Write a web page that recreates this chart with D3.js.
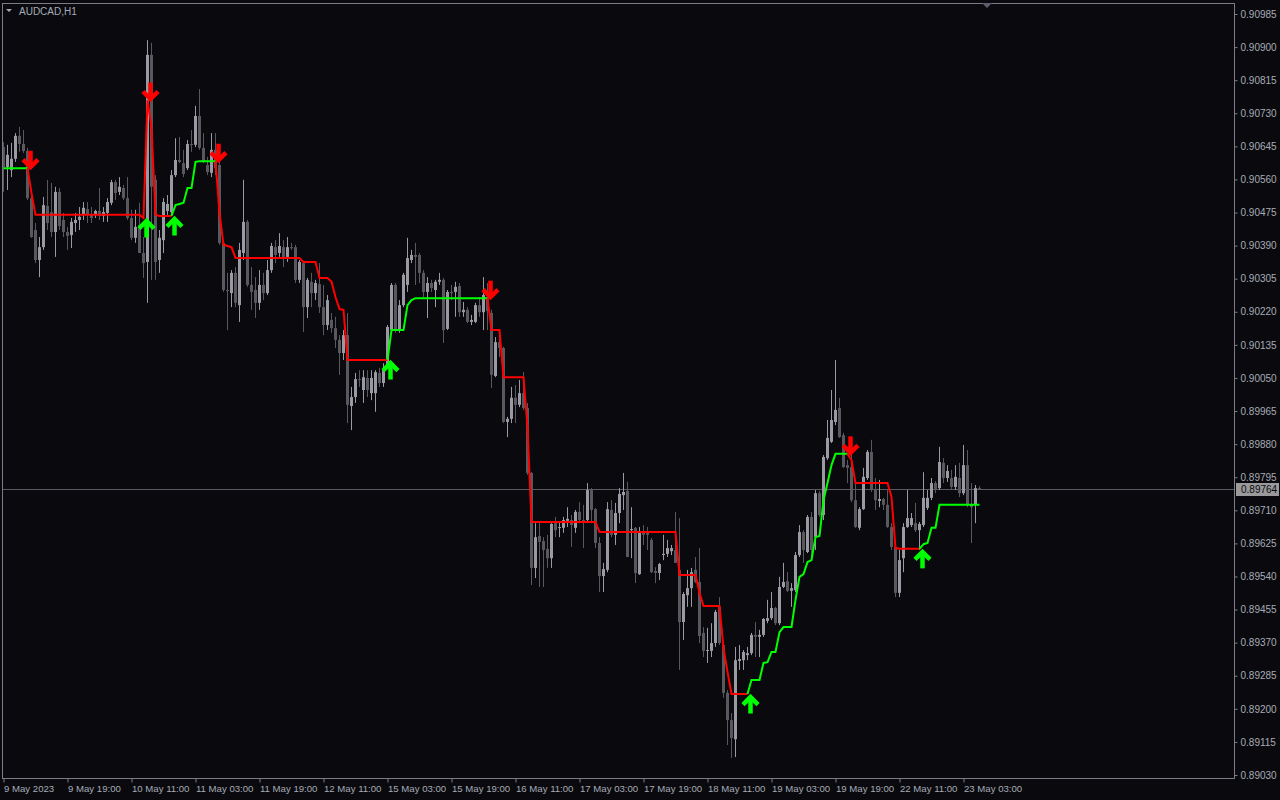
<!DOCTYPE html>
<html><head><meta charset="utf-8">
<script src="https://cdn.jsdelivr.net/npm/d3@7"></script>
<style>html,body{margin:0;padding:0;background:#0a0a0e;overflow:hidden}</style>
</head><body><svg id="c" width="1280" height="800"></svg>
<script>
// ---------- DATA (prices in points, 1 point = 0.00001) ----------
const symbolLabel = "AUDCAD,H1";
const lastPrice = 89764;
const priceTicks = [90985,90900,90815,90730,90645,90560,90475,90390,90305,90220,90135,90050,
  89965,89880,89795,89710,89625,89540,89455,89370,89285,89200,89115,89030];
const timeTickBars = [0,16,32,48,64,80,96,112,128,144,160,176,192,208,224,240];
const timeTickLabels = ["9 May 2023","9 May 19:00","10 May 11:00","11 May 03:00","11 May 19:00",
  "12 May 11:00","15 May 03:00","15 May 19:00","16 May 11:00","17 May 03:00","17 May 19:00",
  "18 May 11:00","19 May 03:00","19 May 19:00","22 May 11:00","23 May 03:00"];

const openP = [
90643,90592,90584,90613,90672,90651,90633,90512,90430,90353,
90386,90492,90476,90425,90528,90456,90425,90417,90448,90456,
90469,90484,90471,90469,90479,90466,90474,90500,90553,90528,
90538,90512,90461,90410,90443,90371,90348,90880,90559,90353,
90404,90479,90476,90571,90610,90602,90589,90651,90649,90723,
90641,90597,90577,90636,90597,90397,90276,90268,90320,90237,
90371,90451,90289,90276,90243,90289,90268,90327,90386,90371,
90386,90361,90386,90386,90302,90345,90232,90297,90268,90291,
90232,90186,90199,90178,90148,90114,90160,89978,90001,90047,
90019,90050,90011,90011,90063,90037,90083,90173,90289,90173,
90237,90289,90353,90366,90366,90320,90271,90294,90276,90297,
90302,90176,90271,90271,90286,90219,90225,90194,90194,90237,
90219,90258,90217,90055,90142,90127,89937,89945,89999,89981,
90011,89973,89806,89562,89644,89631,89611,89587,89677,89665,
89665,89683,89685,89665,89706,89685,89685,89762,89713,89626,
89541,89557,89711,89647,89703,89749,89760,89659,89665,89546,
89654,89652,89634,89554,89549,89595,89598,89605,89608,89557,
89423,89492,89510,89557,89526,89395,89349,89349,89369,89462,
89364,89241,89171,89122,89323,89325,89338,89343,89390,89385,
89390,89426,89433,89459,89420,89513,89528,89503,89505,89595,
89654,89603,89693,89641,89754,89698,89844,89886,89937,89973,
89903,89826,89821,89736,89665,89713,89793,89860,89762,89734,
89739,89724,89667,89616,89498,89587,89667,89672,89677,89659,
89672,89716,89742,89780,89767,89832,89793,89793,89770,89793,
89754,89826,89724,89724,89767];

const highP = [
90656,90649,90654,90679,90695,90687,90641,90533,90448,90412,
90515,90559,90551,90541,90538,90474,90438,90461,90474,90489,
90502,90502,90489,90482,90538,90489,90512,90559,90559,90566,
90546,90566,90482,90482,90500,90412,90918,90911,90571,90430,
90512,90520,90584,90666,90669,90636,90661,90687,90749,90792,
90679,90618,90679,90679,90623,90404,90320,90327,90335,90397,
90559,90456,90335,90309,90327,90320,90353,90397,90404,90422,
90404,90412,90397,90392,90353,90348,90307,90320,90302,90345,
90289,90263,90217,90207,90160,90173,90217,90027,90063,90070,
90070,90070,90070,90070,90076,90088,90186,90294,90294,90250,
90320,90410,90379,90397,90371,90327,90309,90302,90302,90320,
90307,90276,90289,90297,90294,90245,90232,90212,90243,90258,
90309,90294,90225,90155,90155,90130,89950,90027,90032,90045,
90065,89986,89808,89677,89677,89641,89647,89677,89693,89680,
89693,89718,89698,89711,89731,89724,89780,89767,89716,89641,
89575,89731,89736,89729,89767,89806,89783,89718,89667,89667,
89672,89667,89639,89564,89575,89647,89634,89621,89706,89690,
89500,89557,89562,89590,89613,89410,89408,89420,89454,89487,
89369,89248,89189,89359,89364,89351,89359,89395,89423,89403,
89433,89480,89500,89462,89539,89575,89551,89523,89603,89672,
89659,89698,89706,89762,89760,89852,89942,90019,90096,89999,
89909,89839,89865,89783,89718,89819,89865,89891,89793,89788,
89742,89762,89677,89621,89608,89677,89762,89703,89729,89680,
89808,89762,89793,89785,89873,89844,89826,89814,89826,89832,
89878,89865,89780,89775,89772];

const lowP = [
90528,90533,90566,90605,90631,90628,90507,90410,90345,90309,
90379,90430,90412,90361,90430,90412,90379,90384,90425,90430,
90456,90448,90448,90461,90456,90451,90451,90494,90507,90520,
90507,90456,90404,90397,90371,90307,90243,90302,90302,90320,
90371,90469,90471,90566,90602,90566,90584,90631,90643,90636,
90602,90571,90566,90571,90392,90271,90173,90232,90232,90194,
90353,90284,90225,90204,90225,90250,90263,90320,90345,90361,
90335,90348,90379,90294,90294,90168,90204,90232,90250,90217,
90160,90173,90166,90127,90058,90096,89934,89916,89986,90027,
89986,90001,89993,89963,90027,90027,90076,90166,90166,90166,
90232,90271,90345,90289,90294,90258,90204,90271,90232,90289,
90140,90173,90250,90207,90207,90207,90191,90186,90191,90207,
90173,90173,90024,90052,90104,89934,89898,89934,89934,89975,
89968,89801,89518,89536,89513,89513,89562,89562,89641,89641,
89652,89667,89616,89652,89677,89613,89677,89677,89613,89500,
89500,89551,89641,89621,89677,89711,89590,89587,89523,89544,
89621,89608,89549,89523,89531,89582,89590,89595,89575,89300,
89377,89462,89462,89523,89369,89333,89318,89333,89359,89364,
89228,89107,89074,89076,89300,89300,89325,89338,89333,89333,
89385,89420,89428,89415,89415,89510,89500,89462,89500,89590,
89575,89600,89582,89608,89693,89685,89839,89883,89929,89896,
89819,89780,89731,89665,89659,89711,89788,89757,89711,89718,
89711,89665,89608,89487,89487,89551,89665,89667,89654,89608,
89667,89711,89736,89754,89762,89780,89783,89762,89762,89744,
89749,89718,89626,89677,89762];

const closeP = [
90592,90623,90613,90672,90651,90633,90512,90412,90353,90386,
90494,90448,90425,90528,90440,90425,90415,90451,90456,90464,
90487,90471,90461,90479,90466,90476,90502,90553,90525,90541,
90512,90461,90410,90438,90371,90345,90880,90541,90348,90410,
90502,90497,90571,90610,90605,90574,90651,90649,90723,90641,
90605,90579,90636,90589,90397,90276,90273,90320,90243,90379,
90451,90289,90271,90243,90289,90268,90327,90389,90366,90389,
90361,90386,90384,90302,90348,90232,90302,90268,90294,90232,
90186,90250,90178,90148,90114,90160,89981,90001,90047,90045,
90052,90019,90050,90065,90037,90070,90181,90289,90173,90237,
90315,90358,90366,90361,90320,90271,90294,90281,90297,90302,
90173,90271,90268,90284,90219,90225,90194,90199,90237,90219,
90263,90222,90058,90142,90127,89937,89945,89999,89981,90011,
89973,89806,89562,89641,89629,89608,89587,89675,89659,89667,
89685,89688,89672,89706,89685,89680,89762,89711,89626,89541,
89559,89713,89647,89703,89752,89757,89590,89662,89549,89654,
89647,89647,89551,89549,89572,89598,89613,89613,89575,89423,
89495,89510,89551,89526,89387,89349,89351,89369,89449,89369,
89241,89171,89125,89325,89328,89346,89343,89390,89385,89390,
89431,89433,89459,89420,89513,89526,89503,89510,89595,89654,
89608,89693,89608,89754,89698,89847,89896,89942,89968,89898,
89821,89819,89736,89667,89713,89796,89860,89762,89736,89739,
89724,89667,89616,89498,89582,89667,89690,89690,89659,89675,
89742,89742,89780,89765,89834,89793,89811,89770,89796,89754,
89826,89724,89718,89767,89764];

// trend-line indicator value per bar
const trendLine = [
90589,90589,90589,90589,90589,90589,90589,90525,90469,90469,
90469,90469,90469,90469,90469,90469,90469,90469,90469,90469,
90469,90469,90469,90469,90469,90469,90469,90469,90469,90469,
90469,90469,90469,90469,90469,90461,90764,90695,90469,90466,
90466,90466,90466,90494,90497,90500,90538,90538,90605,90607,
90607,90607,90607,90607,90474,90392,90389,90386,90358,90358,
90358,90358,90358,90358,90358,90358,90358,90358,90358,90358,
90358,90358,90358,90358,90358,90348,90348,90348,90348,90307,
90307,90307,90297,90258,90227,90225,90096,90096,90096,90096,
90096,90096,90096,90096,90096,90096,90096,90173,90173,90173,
90173,90237,90250,90255,90255,90255,90255,90255,90255,90255,
90255,90255,90255,90255,90255,90255,90255,90255,90255,90255,
90255,90255,90173,90173,90173,90052,90052,90052,90052,90052,
90052,89924,89680,89680,89680,89680,89680,89680,89680,89680,
89680,89680,89680,89680,89680,89680,89680,89680,89680,89654,
89654,89654,89654,89654,89654,89654,89654,89654,89654,89654,
89654,89654,89654,89654,89654,89654,89654,89654,89654,89544,
89544,89544,89544,89544,89498,89464,89464,89464,89464,89464,
89356,89295,89238,89238,89238,89238,89238,89274,89274,89274,
89318,89320,89346,89346,89397,89410,89410,89410,89480,89539,
89546,89577,89582,89641,89644,89736,89780,89826,89855,89855,
89855,89855,89839,89780,89780,89780,89780,89780,89780,89780,
89780,89780,89744,89613,89611,89611,89611,89611,89611,89611,
89623,89626,89665,89665,89724,89724,89724,89724,89724,89724,
89724,89724,89724,89724,89724];

// trend segments: first bar of each colored run and its direction (1 up/green, -1 down/red)
const trendSegStart = [0, 7, 43, 54, 97, 122, 187, 212, 230];
const trendSegDir   = [1, -1, 1, -1, 1, -1, 1, -1, 1];

// signal arrows
const arrowBar   = [6, 35, 36, 42, 53, 96, 121, 186, 211, 229];
const arrowDir   = [-1, 1, -1, 1, -1, 1, -1, 1, -1, 1];
const arrowPrice = [90589, 90461, 90764, 90466, 90607, 90096, 90255, 89238, 89855, 89611];

// ---------- DRAWING ----------
const BG = "#0a0a0e", FRAME = "#7c7c86", TXT = "#a7aab6";
const BULL = "#9a9aa4", BEAR = "#58585e";
const RED = "#ff0000", GREEN = "#00ff00";
const FONT = "'Liberation Sans', Arial, sans-serif";
const n = openP.length;
const pt = v => v / 1e5;

const svg = d3.select("#c");
svg.append("rect").attr("width",1280).attr("height",800).attr("fill",BG);

const plotL = 2, plotT = 3, plotR = 1235, plotB = 778;
const x = d3.scaleLinear().domain([0, 244]).range([3, 979]);
const y = d3.scaleLinear().domain([0.89030, 0.90985]).range([775, 14]);

svg.append("clipPath").attr("id","clip").append("rect")
  .attr("x",plotL+0.5).attr("y",plotT+0.5).attr("width",plotR-plotL-1).attr("height",plotB-plotT-1);

const g = svg.append("g").attr("clip-path","url(#clip)");

// current price line
g.append("line").attr("x1",plotL).attr("x2",plotR)
  .attr("y1",Math.round(y(pt(lastPrice)))+0.5).attr("y2",Math.round(y(pt(lastPrice)))+0.5)
  .attr("stroke","#5a5a62").attr("stroke-width",1);

// candles
const idx = d3.range(n);
const isBull = i => closeP[i] >= openP[i];
g.append("g").selectAll("line").data(idx).join("line")
  .attr("x1", i => x(i)+0.5).attr("x2", i => x(i)+0.5)
  .attr("y1", i => y(pt(highP[i]))).attr("y2", i => y(pt(lowP[i])))
  .attr("stroke", i => isBull(i) ? BULL : BEAR).attr("stroke-width",1);
g.append("g").selectAll("rect").data(idx).join("rect")
  .attr("x", i => x(i)-1).attr("width", 3)
  .attr("y", i => y(pt(Math.max(openP[i], closeP[i]))))
  .attr("height", i => Math.max(1, Math.abs(y(pt(openP[i])) - y(pt(closeP[i])))))
  .attr("fill", i => isBull(i) ? BULL : BEAR);

// trend line
const lineGen = d3.line().x(i => x(i)+0.5).y(i => y(pt(trendLine[i])));
trendSegStart.forEach((s, k) => {
  const e = k+1 < trendSegStart.length ? trendSegStart[k+1]-1 : n-1;
  const ids = d3.range(Math.max(0, s-1), e+1);
  g.append("path").datum(ids).attr("d", lineGen).attr("fill","none")
    .attr("stroke", trendSegDir[k] > 0 ? GREEN : RED).attr("stroke-width", 2)
    .attr("stroke-linejoin","miter");
});

// arrows
arrowBar.forEach((b, k) => {
  const d = arrowDir[k];
  const ax = x(b) + 3.5, ay = y(pt(arrowPrice[k])) + (d < 0 ? 2 : 0);
  const col = d > 0 ? GREEN : RED;
  const s = d > 0 ? 1 : -1; // up arrow: body below tip
  const a = g.append("g").attr("transform", `translate(${ax},${ay})`);
  a.append("line").attr("x1",0).attr("x2",0).attr("y1", s*3).attr("y2", s*19.5)
    .attr("stroke", col).attr("stroke-width", 4.5);
  a.append("polyline").attr("points", `-7.5,${s*10.5} 0,${s*3} 7.5,${s*10.5}`)
    .attr("fill","none").attr("stroke", col).attr("stroke-width", 4.5)
    .attr("stroke-linejoin","miter").attr("stroke-miterlimit", 10);
});

// frame
svg.append("rect").attr("x",plotL+0.5).attr("y",plotT+0.5)
  .attr("width",plotR-plotL-1).attr("height",plotB-plotT)
  .attr("fill","none").attr("stroke",FRAME).attr("stroke-width",1);

// right price axis
const ya = svg.append("g").attr("transform",`translate(${plotR-0.5},0)`)
  .call(d3.axisRight(y).tickValues(priceTicks.map(pt)).tickFormat(d3.format(".5f")).tickSize(3).tickPadding(3));
ya.select(".domain").remove();
ya.selectAll("line").attr("stroke",FRAME);
ya.selectAll("text").attr("fill",TXT).style("font-family",FONT).style("font-size","10px");

// bottom time axis
const xa = svg.append("g").attr("transform",`translate(0.5,${plotB+0.5})`)
  .call(d3.axisBottom(x).tickValues(timeTickBars).tickFormat((d,i) => timeTickLabels[i]).tickSize(4).tickPadding(3));
xa.select(".domain").remove();
xa.selectAll("line").attr("stroke",FRAME);
xa.selectAll("text").attr("fill",TXT).attr("text-anchor","start").attr("dx",0)
  .style("font-family",FONT).style("font-size","9.6px");

// last price tag
const ly = y(pt(lastPrice));
svg.append("rect").attr("x",1236).attr("y",Math.round(ly)-6).attr("width",43).attr("height",13).attr("fill","#9a9a9c");
svg.append("text").attr("x",1241).attr("y",ly).attr("dy","0.35em").text(d3.format(".5f")(pt(lastPrice)))
  .attr("fill","#0a0a0a").style("font-family",FONT).style("font-size","10px");

// title
svg.append("path").attr("d","M6,9 L12,9 L9,12 Z").attr("fill",TXT);
svg.append("text").attr("x",19).attr("y",11).attr("dy","0.35em").text(symbolLabel)
  .attr("fill",TXT).style("font-family",FONT).style("font-size","10px");

// chart shift marker
svg.append("path").attr("d","M982,3 L992,3 L987,8 Z").attr("fill","#5c5c6c");
</script></body></html>
